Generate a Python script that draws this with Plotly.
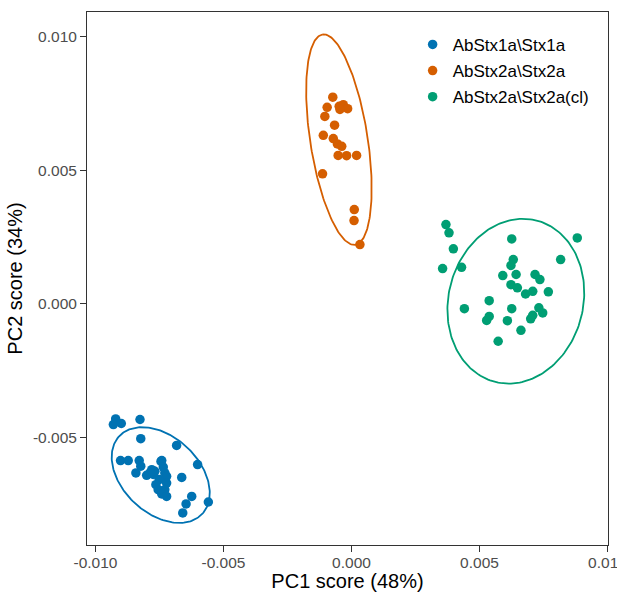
import numpy as np
import plotly.graph_objects as go

# ---- data ----
groups = ["AbStx1a\\Stx1a", "AbStx2a\\Stx2a", "AbStx2a\\Stx2a(cl)"]
colors = ["#0072B2", "#D55E00", "#009E73"]

stx1a_x = [-0.00921, -0.00930, -0.00899, -0.00826, -0.00823, -0.00683, -0.00902, -0.00872,
           -0.00829, -0.00823, -0.00741, -0.00842, -0.00800, -0.00780, -0.00774, -0.00663,
           -0.00601, -0.00624, -0.00646, -0.00559, -0.00659, -0.00744, -0.00735, -0.00768,
           -0.00729, -0.00722, -0.00751, -0.00764, -0.00722, -0.00755, -0.00729, -0.00741,
           -0.00722, -0.00787]
stx1a_y = [-0.00432, -0.00453, -0.00449, -0.00434, -0.00506, -0.00531, -0.00588, -0.00588,
           -0.00588, -0.00609, -0.00588, -0.00634, -0.00643, -0.00622, -0.00640, -0.00651,
           -0.00603, -0.00722, -0.00750, -0.00743, -0.00784, -0.00591, -0.00612, -0.00628,
           -0.00634, -0.00647, -0.00659, -0.00678, -0.00672, -0.00697, -0.00697, -0.00713,
           -0.00722, -0.00634]

stx2a_x = [-0.00073, -0.00095, -0.00104, -0.00048, -0.00032, -0.00015, -0.00045, -0.00066,
           -0.00110, -0.00071, -0.00055, -0.00038, -0.00052, -0.00019, 0.00020, -0.00113,
           0.00011, 0.00010, 0.00033]
stx2a_y = [0.00773, 0.00735, 0.00701, 0.00739, 0.00745, 0.00730, 0.00727, 0.00668,
           0.00630, 0.00618, 0.00598, 0.00589, 0.00555, 0.00554, 0.00555, 0.00486,
           0.00352, 0.00311, 0.00221]

stx2acl_x = [0.00369, 0.00381, 0.00398, 0.00356, 0.00430, 0.00626, 0.00882, 0.00817,
             0.00632, 0.00623, 0.00591, 0.00643, 0.00717, 0.00736, 0.00623, 0.00648,
             0.00680, 0.00708, 0.00769, 0.00538, 0.00441, 0.00626, 0.00732, 0.00747,
             0.00538, 0.00528, 0.00708, 0.00700, 0.00609, 0.00662, 0.00573]
stx2acl_y = [0.00296, 0.00265, 0.00205, 0.00131, 0.00136, 0.00242, 0.00246, 0.00165,
             0.00165, 0.00143, 0.00105, 0.00109, 0.00109, 0.00090, 0.00071, 0.00059,
             0.00036, 0.00046, 0.00044, 0.00011, -0.00019, -0.00019, -0.00016, -0.00035,
             -0.00048, -0.00063, -0.00044, -0.00057, -0.00064, -0.00100, -0.00141]

# 95% ellipse parameters per group (centre, semi-axes, rotation in degrees)
ell_cx = [-0.00745, -0.00049, 0.00642]
ell_cy = [-0.00642, 0.00614, 0.00009]
ell_a = [0.00218, 0.00399, 0.00313]
ell_b = [0.00146, 0.00112, 0.00262]
ell_angle = [-40.0, 99.3, 72.0]

x_tickvals = [-0.010, -0.005, 0.000, 0.005, 0.010]
x_ticktext = ["-0.010", "-0.005", "0.000", "0.005", "0.010"]
y_tickvals = [-0.005, 0.000, 0.005, 0.010]
y_ticktext = ["-0.005", "0.000", "0.005", "0.010"]

xs = [stx1a_x, stx2a_x, stx2acl_x]
ys = [stx1a_y, stx2a_y, stx2acl_y]


def ellipse(cx, cy, a, b, ang):
    t = np.linspace(0, 2 * np.pi, 200)
    th = np.deg2rad(ang)
    ex = cx + a * np.cos(t) * np.cos(th) - b * np.sin(t) * np.sin(th)
    ey = cy + a * np.cos(t) * np.sin(th) + b * np.sin(t) * np.cos(th)
    return ex, ey


fig = go.Figure()
for i in range(3):
    ex, ey = ellipse(ell_cx[i], ell_cy[i], ell_a[i], ell_b[i], ell_angle[i])
    fig.add_trace(go.Scatter(x=ex, y=ey, mode="lines", line=dict(color=colors[i], width=1.8),
                             showlegend=False, hoverinfo="skip"))
for i in range(3):
    fig.add_trace(go.Scatter(x=xs[i], y=ys[i], mode="markers", name=groups[i],
                             legendgroup=groups[i],
                             marker=dict(color=colors[i], size=9.5, line=dict(width=0))))

axis_common = dict(showgrid=False, zeroline=False, showline=True, mirror=True,
                   linecolor="#333333", linewidth=1, ticks="outside", ticklen=6,
                   tickwidth=1, tickcolor="#333333", automargin=False,
                   ticklabeloverflow="allow",
                   tickfont=dict(family="Liberation Sans, Arial", size=15.5, color="#4D4D4D"))

fig.update_layout(
    width=617, height=592,
    margin=dict(l=87, r=9, t=12, b=47),
    paper_bgcolor="white", plot_bgcolor="white",
    font=dict(family="Liberation Sans, Arial", color="black"),
    xaxis=dict(range=[-0.01033, 0.01002], tickvals=x_tickvals, ticktext=x_ticktext,
               ticklabelstandoff=-3,
               title=dict(text="PC1 score (48%)", font=dict(size=20), standoff=4),
               **axis_common),
    yaxis=dict(range=[-0.00904, 0.01092], tickvals=y_tickvals, ticktext=y_ticktext,
               title=dict(text="PC2 score (34%)", font=dict(size=20), standoff=4),
               **axis_common),
    legend=dict(x=0.625, y=0.972, xanchor="left", yanchor="top", bgcolor="rgba(0,0,0,0)",
                font=dict(size=17, color="black"), itemwidth=30, tracegroupgap=1,
                traceorder="grouped"),
)

fig.write_html("out.html")
